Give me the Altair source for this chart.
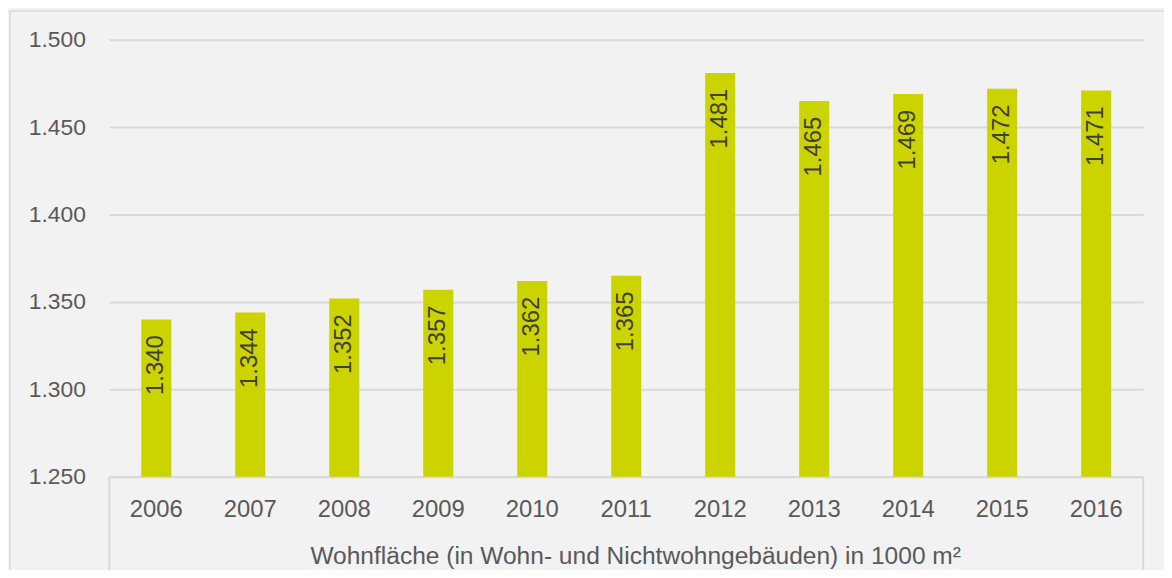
import altair as alt
import pandas as pd

years = ["2006", "2007", "2008", "2009", "2010", "2011", "2012", "2013", "2014", "2015", "2016"]
values = [1340, 1344, 1352, 1357, 1362, 1365, 1481, 1465, 1469, 1472, 1471]
y_ticks = [1250, 1300, 1350, 1400, 1450, 1500]
x_title = "Wohnfläche (in Wohn- und Nichtwohngebäuden) in 1000 m²"

df = pd.DataFrame({"Jahr": years, "Wert": values})

W, H = 1041, 440
FONT = "Liberation Sans"
GREY = "#595959"
LINE = "#D9D9D9"
fmt = "replace(format(datum.value, ',d'), ',', '.')"

base = alt.Chart(df)

x_enc = alt.X(
    "Jahr:N",
    sort=years,
    scale=alt.Scale(paddingInner=0.68, paddingOuter=0.34),
    axis=alt.Axis(
        title=x_title,
        labelAngle=0,
        labelFont=FONT,
        labelFontSize=24,
        labelColor=GREY,
        labelPadding=21,
        titleFont=FONT,
        titleFontSize=24.7,
        titleFontWeight="normal",
        titleColor=GREY,
        titlePadding=22,
        titleX=W / 2 + 9,
        titleAlign="center",
        ticks=False,
        domain=True,
        domainColor=LINE,
        domainWidth=2,
        grid=False,
    ),
)
y_enc = alt.Y(
    "Wert:Q",
    scale=alt.Scale(domain=[1250, 1500], zero=False, nice=False),
    axis=alt.Axis(
        title=None,
        values=y_ticks,
        labelExpr=fmt,
        labelFont=FONT,
        labelFontSize=23,
        labelColor=GREY,
        labelPadding=24,
        ticks=False,
        domain=False,
        grid=True,
        gridColor=LINE,
        gridWidth=2,
    ),
)

bars = base.mark_bar(color="#CCD400", clip=True).encode(x=x_enc, y=y_enc)

labels = base.mark_text(
    angle=270, align="right", baseline="middle", dx=-16, font=FONT, fontSize=24, color="#404040"
).encode(
    x=alt.X("Jahr:N", sort=years),
    y=alt.Y("Wert:Q"),
    text=alt.Text("label:N"),
).transform_calculate(label=fmt.replace("datum.value", "datum.Wert"))

edges = alt.Chart(pd.DataFrame({"e": [0]})).mark_rule(color=LINE, strokeWidth=2).encode(
    x=alt.value(0), y=alt.value(H), y2=alt.value(H + 94)
)
edge_r = alt.Chart(pd.DataFrame({"e": [0]})).mark_rule(color=LINE, strokeWidth=2).encode(
    x=alt.value(W), y=alt.value(H), y2=alt.value(H + 94)
)
border = alt.Chart(pd.DataFrame({"e": [0]})).mark_rect(
    fill=None, stroke=LINE, strokeWidth=1.5
).encode(
    x=alt.value(-100), x2=alt.value(W + 40), y=alt.value(-29), y2=alt.value(H + 120)
)

chart = alt.layer(border, bars, labels, edges, edge_r).properties(
    width=W,
    height=H,
    autosize=alt.AutoSizeParams(type="none"),
    padding={"left": 102, "top": 30, "right": 21, "bottom": 92},
    background="#F2F2F2",
).configure_view(stroke=None)

chart.save("out.html", embed_options={"renderer": "svg", "actions": False})
